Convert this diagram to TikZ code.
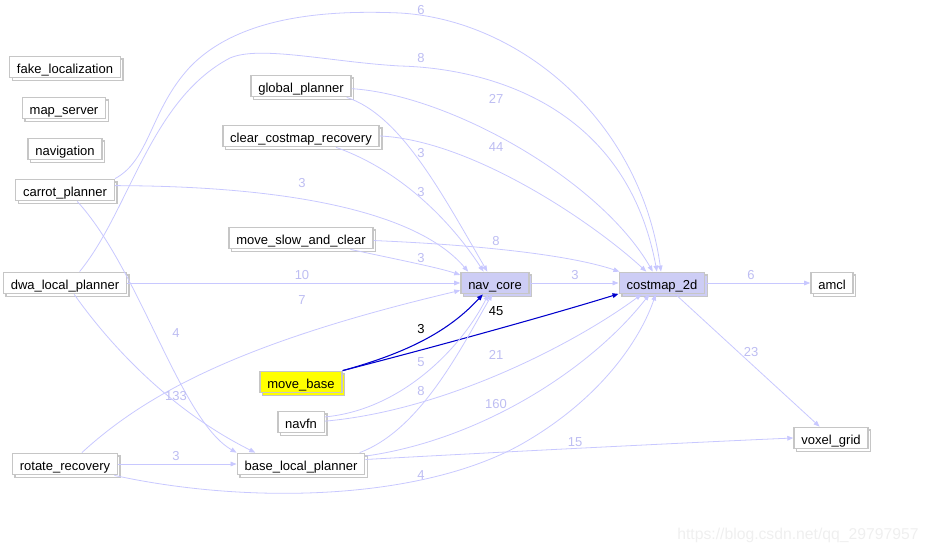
\documentclass[tikz,border=0pt]{standalone}
\usepackage{fontspec}
\setmainfont{Liberation Sans}
\usepackage{tikz}
\usetikzlibrary{arrows.meta,shadows}
\definecolor{Edge}{HTML}{C8C8FF}
\definecolor{EdgeText}{HTML}{BDBDF2}
\definecolor{Frame}{HTML}{C6C6C6}
\definecolor{Lav}{HTML}{CDCDF5}
\definecolor{Hot}{HTML}{0000CC}
\definecolor{Mark}{HTML}{FFFF00}
\definecolor{Faint}{HTML}{EFEFEF}

\begin{document}
\begin{tikzpicture}[x=0.75pt,y=-0.75pt,
  pkg/.style={draw=Frame,fill=#1,line width=1.1pt,inner xsep=5.5pt,inner ysep=0pt,minimum height=16pt,text height=9.3pt,text depth=0pt,font=\fontsize{9.75}{11}\selectfont,copy shadow={shadow xshift=2pt,shadow yshift=-2pt}},
  pkg/.default=white,
  dep/.style={draw=Edge,line width=0.6pt,-{Triangle[length=4.5pt,width=3.5pt]}},
  hot/.style={draw=Hot,line width=0.8pt,-{Triangle[length=4.5pt,width=3.5pt]}},
  num/.style={text=#1,font=\fontsize{9.75}{11}\selectfont,inner sep=0pt},
  num/.default=EdgeText
]
\useasboundingbox (0,0) rectangle (929,553);
% packages
\node[pkg] (fake) at (65,67) {fake\_localization};
\node[pkg] (mapsrv) at (64,108) {map\_server};
\node[pkg] (navig) at (65,149) {navigation};
\node[pkg] (carrot) at (65,190) {carrot\_planner};
\node[pkg] (global) at (301,86) {global\_planner};
\node[pkg] (clear) at (301,136) {clear\_costmap\_recovery};
\node[pkg] (slow) at (301,238) {move\_slow\_and\_clear};
\node[pkg] (dwa) at (65,283) {dwa\_local\_planner};
\node[pkg=Lav] (navcore) at (495,283) {nav\_core};
\node[pkg=Lav] (costmap) at (662,283) {costmap\_2d};
\node[pkg] (amcl) at (832,283) {amcl};
\node[pkg=Mark] (movebase) at (301,382) {move\_base};
\node[pkg] (navfn) at (301,422) {navfn};
\node[pkg] (baselocal) at (301,464) {base\_local\_planner};
\node[pkg] (rotate) at (65,464) {rotate\_recovery};
\node[pkg] (voxel) at (831,438) {voxel\_grid};
% dependencies
\draw[dep] (carrot.north east) .. controls (150,160) and (150,110) .. (190,67) .. controls (240,15) and (330,10) .. (400,13) .. controls (520,20) and (640,120) .. (costmap.95);
\draw[dep] (carrot.5) .. controls (300,186) and (420,215) .. (navcore.157);
\draw[dep] (carrot.317) .. controls (140,270) and (180,420) .. (baselocal.170);
\draw[dep] (global.357) .. controls (450,95) and (600,180) .. (costmap.129);
\draw[dep] (global.346) .. controls (400,115) and (440,190) .. (navcore.124);
\draw[dep] (clear.0) .. controls (470,140) and (590,220) .. (costmap.144);
\draw[dep] (clear.342) .. controls (400,170) and (450,220) .. (navcore.135);
\draw[dep] (slow.358) .. controls (480,245) and (570,255) .. (costmap.165);
\draw[dep] (slow.347) .. controls (400,260) and (440,268) .. (navcore.167);
\draw[dep] (dwa.38) .. controls (130,210) and (150,100) .. (230,58) .. controls (260,45) and (330,62) .. (400,66) .. controls (480,68) and (625,100) .. (costmap.114);
\draw[dep] (dwa.east) -- (navcore.west);
\draw[dep] (dwa.309) .. controls (110,345) and (170,410) .. (baselocal.166);
\draw[dep] (rotate.34) .. controls (150,390) and (250,340) .. (navcore.192);
\draw[dep] (rotate.east) -- (baselocal.west);
\draw[dep] (rotate.347) .. controls (250,505) and (420,500) .. (520,445) .. controls (600,400) and (640,340) .. (costmap.241);
\draw[hot] (movebase.north east) .. controls (410,352) and (450,330) .. (navcore.223);
\draw[hot] (movebase.north east) .. controls (450,343) and (560,312) .. (costmap.194);
\draw[dep] (navfn.12) .. controls (400,410) and (460,350) .. (navcore.240);
\draw[dep] (navfn.2) .. controls (450,410) and (580,340) .. (costmap.209);
\draw[dep] (baselocal.11) .. controls (420,430) and (460,350) .. (navcore.256);
\draw[dep] (baselocal.7) .. controls (480,440) and (590,370) .. (costmap.222);
\draw[dep] (baselocal.4) .. controls (500,452) and (700,442) .. (voxel.west);
\draw[dep] (navcore.east) -- (costmap.west);
\draw[dep] (costmap.east) -- (amcl.west);
\draw[dep] (costmap.320) -- (voxel.135);
% counts
\node[num] (n1) at (421,10) {6};
\node[num] (n2) at (421,58) {8};
\node[num] (n3) at (496,99) {27};
\node[num] (n4) at (496,147) {44};
\node[num] (n5) at (421,153) {3};
\node[num] (n6) at (421,192) {3};
\node[num] (n7) at (302,183) {3};
\node[num] (n8) at (496,241) {8};
\node[num] (n9) at (421,258) {3};
\node[num] (n10) at (302,275) {10};
\node[num] (n11) at (302,300) {7};
\node[num] (n12) at (575,275) {3};
\node[num] (n13) at (751,275) {6};
\node[num] (n14) at (176,333) {4};
\node[num] (n15) at (176,396) {133};
\node[num=black] (n16) at (421,329) {3};
\node[num=black] (n17) at (496,311) {45};
\node[num] (n18) at (421,362) {5};
\node[num] (n19) at (496,355) {21};
\node[num] (n20) at (421,391) {8};
\node[num] (n21) at (496,404) {160};
\node[num] (n22) at (575,442) {15};
\node[num] (n23) at (176,456) {3};
\node[num] (n24) at (421,475) {4};
\node[num] (n25) at (751,352) {23};
\node[text=Faint,font=\fontsize{11.8}{14}\selectfont,inner sep=0pt] (mark) at (798,535) {https://blog.csdn.net/qq\_29797957};
\end{tikzpicture}
\end{document}
